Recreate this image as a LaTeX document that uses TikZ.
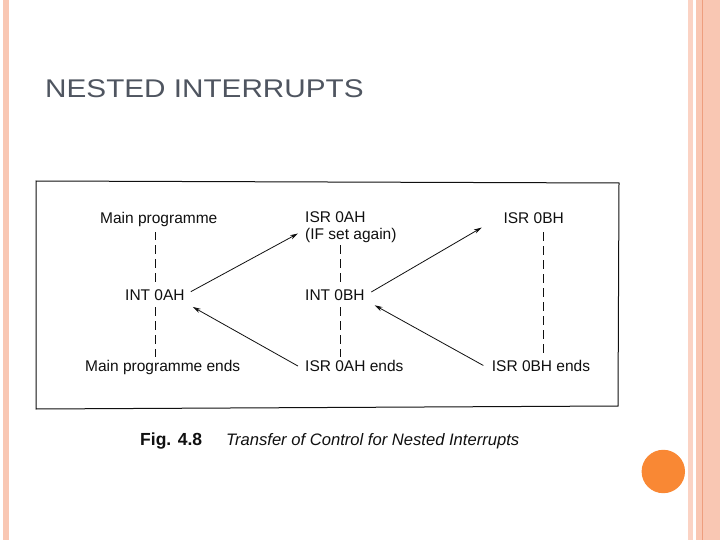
\documentclass[tikz,border=0pt]{standalone}
\usepackage{fontspec}
\setmainfont{Liberation Sans}
\usetikzlibrary{arrows.meta,calc}
\definecolor{titlegray}{HTML}{4F5560}
\definecolor{stripA}{HTML}{FBD3C4}
\definecolor{stripB}{HTML}{F9C7B3}
\definecolor{stripLine}{HTML}{EE9E7E}
\definecolor{dotorange}{HTML}{F98834}
\definecolor{ink}{HTML}{101010}
\begin{document}
\begin{tikzpicture}[x=1pt,y=-1pt,
  lbl/.style={anchor=base west,inner sep=0pt,text=ink,font=\fontsize{15.5}{18}\selectfont},
  dsh/.style={draw=ink,line width=0.9pt,dash pattern=on 9pt off 5pt},
  arr/.style={draw=ink,line width=0.8pt,-{Stealth[length=8pt,width=4.5pt]}}]
\useasboundingbox (0,0) rectangle (720,540);
\fill[white] (0,0) rectangle (720,540);
% slide decorations
\fill[stripB] (3,0) rectangle (8.5,540);
\fill[stripA] (688,0) rectangle (692.5,540);
\fill[stripB] (695.5,0) rectangle (720,540);
\fill[stripLine] (702,0) rectangle (703.2,540);
\fill[dotorange] (663.3,471.5) circle (21.7);
% title
\node[anchor=base west,inner sep=0pt,text=titlegray,font=\fontsize{25.6}{30}\selectfont] (title) at (45,97.3) {\scalebox{1.16}[1]{NESTED INTERRUPTS}};
% figure frame
\draw[ink,line width=1pt] (36,181) -- (619,183) -- (618,406) -- (36,409) -- cycle;
% labels
\node[lbl] (mp) at (100,223) {Main programme};
\node[lbl] (isra) at (305,222.5) {ISR 0AH};
\node[lbl] (ifset) at (305,239.5) {(IF set again)};
\node[lbl] (isrb) at (503.3,223) {ISR 0BH};
\node[lbl] (inta) at (125,300) {INT 0AH};
\node[lbl] (intb) at (305,300) {INT 0BH};
\node[lbl] (mpe) at (85,371) {Main programme ends};
\node[lbl] (israe) at (305,371) {ISR 0AH ends};
\node[lbl] (isrbe) at (491.7,371) {ISR 0BH ends};
% dashed time lines
\draw[dsh] ($(inta.north)+(1,-7)$) -- ($(inta.north)+(1,-57)$);
\draw[dsh] ($(inta.south)+(1,7)$) -- ($(inta.south)+(1,57)$);
\draw[dsh] ($(intb.north)+(6,-7)$) -- ($(intb.north)+(6,-47)$);
\draw[dsh] ($(intb.south)+(6,7)$) -- ($(intb.south)+(6,57)$);
\coordinate (bx) at ($(isrb.south)+(10.2,9)$);
\draw[dsh] (bx) -- ($(bx |- isrbe.north)+(0,-4)$);
% transfer arrows
\draw[arr] ($(inta.east)+(6,-3)$) -- ($(ifset.west)+(-7,-2)$);
\draw[arr] ($(israe.west)+(-7,0.6)$) -- ($(inta.east)+(8,12.3)$);
\draw[arr] ($(intb.east)+(6.5,-2.7)$) -- ($(isrb.west)+(-21.6,9.9)$);
\draw[arr] ($(isrbe.west)+(-8.4,0)$) -- ($(intb.east)+(9.8,10.6)$);
% caption
\node[anchor=base west,inner sep=0pt,text=ink,font=\fontsize{17.5}{20}\selectfont\bfseries] (fig) at (140,445) {Fig. 4.8};
\node[anchor=base west,inner sep=0pt,text=ink,font=\fontsize{16.6}{20}\selectfont\itshape] (cap) at (226,445) {Transfer of Control for Nested Interrupts};
\end{tikzpicture}
\end{document}
